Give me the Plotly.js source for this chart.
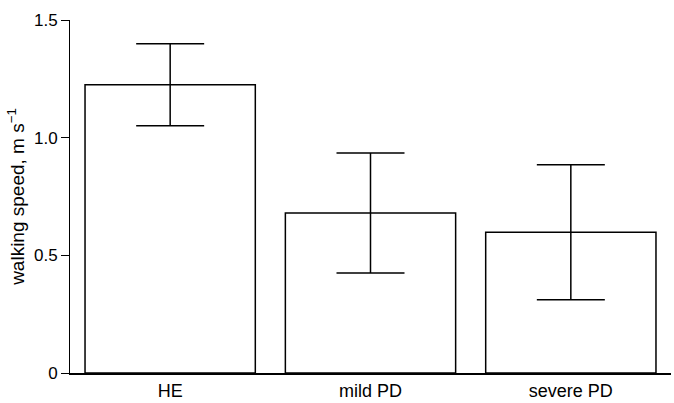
<!DOCTYPE html>
<html>
<head>
<meta charset="utf-8">
<script src="https://cdn.plot.ly/plotly-3.0.1.min.js"></script>
<style>html,body{margin:0;padding:0;background:#fff;}#chart{width:674px;height:403px;}</style>
</head>
<body>
<div id="chart"></div>
<script>
var categories = ["HE", "mild PD", "severe PD"];
var speeds = [1.225, 0.68, 0.598];
var errors = [0.174, 0.255, 0.287];
var yTickVals = [0, 0.5, 1.0, 1.5];
var yTickText = ["0", "0.5", "1.0", "1.5"];

var trace = {
  type: "bar",
  x: categories,
  y: speeds,
  marker: {color: "#ffffff", line: {color: "#000000", width: 1.5}},
  error_y: {type: "data", array: errors, visible: true, color: "#000000", thickness: 1.5, width: 34},
  hoverinfo: "none"
};

var layout = {
  width: 674, height: 403,
  margin: {l: 70, r: 3, t: 20, b: 30},
  paper_bgcolor: "#ffffff", plot_bgcolor: "#ffffff",
  font: {family: "Liberation Sans, Arial, sans-serif", size: 18, color: "#000000"},
  bargap: 0.15,
  showlegend: false,
  xaxis: {
    range: [-0.5, 2.5],
    showline: true, linecolor: "#000000", linewidth: 2,
    ticks: "", showgrid: false, zeroline: false,
    tickfont: {size: 18}
  },
  yaxis: {
    range: [0, 1.5],
    tickvals: yTickVals, ticktext: yTickText,
    showline: true, linecolor: "#000000", linewidth: 1,
    ticks: "outside", ticklen: 8, tickcolor: "#000000", tickwidth: 1,
    showgrid: false, zeroline: false,
    tickfont: {size: 17},
    title: {text: "walking speed, m s<sup>\u22121</sup>", font: {size: 19}, standoff: 4}
  }
};

Plotly.newPlot("chart", [trace], layout, {staticPlot: true, displayModeBar: false});
</script>
</body>
</html>
